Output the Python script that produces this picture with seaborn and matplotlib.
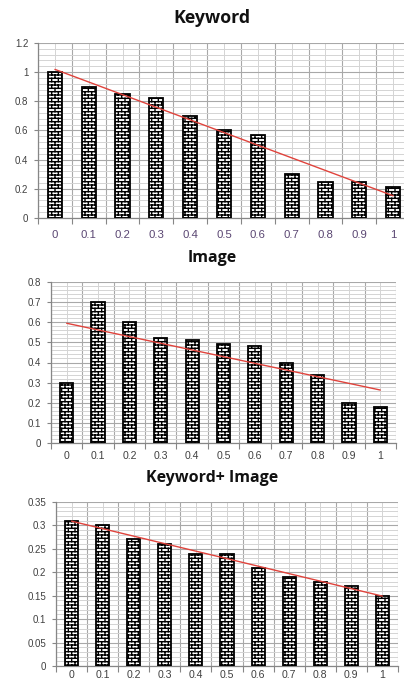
import numpy as np
import matplotlib
matplotlib.use("Agg")
import matplotlib.pyplot as plt
import matplotlib.hatch as mhatch
from matplotlib.path import Path
from matplotlib.ticker import MultipleLocator
import seaborn as sns
import warnings
warnings.filterwarnings("ignore")

# ---------------- data ----------------
categories = ["0", "0.1", "0.2", "0.3", "0.4", "0.5", "0.6", "0.7", "0.8", "0.9", "1"]
keyword_vals = [1.0, 0.90, 0.85, 0.82, 0.70, 0.60, 0.57, 0.30, 0.245, 0.245, 0.215]
image_vals = [0.30, 0.70, 0.60, 0.52, 0.51, 0.49, 0.48, 0.40, 0.34, 0.20, 0.18]
combo_vals = [0.31, 0.30, 0.27, 0.26, 0.24, 0.24, 0.21, 0.19, 0.18, 0.17, 0.15]
titles = ["Keyword", "Image", "Keyword+ Image"]
ymaxes = [1.2, 0.8, 0.35]
ymajor = [0.2, 0.1, 0.05]


# ---------------- brick hatch ----------------
class BrickHatch(mhatch.HatchPatternBase):
    ROWS = 30
    COLS = 15

    def __init__(self, hatch, density):
        self.segs = []
        if hatch and "b" in hatch:
            r, c = self.ROWS, self.COLS
            for i in range(r):
                y = (i + 0.5) / r
                self.segs.append(((0.0, y), (1.0, y)))
            for i in range(r):
                y0 = (i + 0.5) / r
                y1 = (i + 1.5) / r
                off = (0.25 if i % 2 == 0 else 0.75) / c
                for j in range(c):
                    x = j / c + off
                    if y1 <= 1.0:
                        self.segs.append(((x, y0), (x, y1)))
                    else:
                        self.segs.append(((x, y0), (x, 1.0)))
                        self.segs.append(((x, 0.0), (x, y1 - 1.0)))
        self.num_vertices = 2 * len(self.segs)

    def set_vertices_and_codes(self, vertices, codes):
        for k, (a, b) in enumerate(self.segs):
            vertices[2 * k] = a
            vertices[2 * k + 1] = b
            codes[2 * k] = Path.MOVETO
            codes[2 * k + 1] = Path.LINETO


mhatch._hatch_types.append(BrickHatch)
mhatch._validate_hatch_pattern = lambda hatch: None

sns.set_style("white")
plt.rcParams["hatch.linewidth"] = 1.0
plt.rcParams["hatch.color"] = "black"
plt.rcParams["font.family"] = ["Liberation Sans", "DejaVu Sans"]

fig = plt.figure(figsize=(4.04, 6.86), dpi=100)
W, H = 404, 686


def rect(l, r, t, b):
    return [l / W, (H - b) / H, (r - l) / W, (b - t) / H]


axes_px = [(38, 410, 43, 218), (51, 396, 282, 443), (56, 398, 502, 666)]
title_y = [18, 258, 478]
title_size = [12.8, 11.5, 11.5]
xlabel_pad = [9, 6, 3]
xlabel_size = [8.2, 7.6, 7.6]
xlabel_color = ["#5a4672", "#404040", "#404040"]
series = [keyword_vals, image_vals, combo_vals]

for k in range(3):
    ax = fig.add_axes(rect(*axes_px[k]))
    vals = series[k]
    sns.barplot(x=categories, y=vals, ax=ax, order=categories, color="white",
                saturation=1, edgecolor="black", linewidth=1.3, width=0.42,
                hatch="b", errorbar=None, zorder=3)
    idx = np.arange(len(categories))
    coef = np.polyfit(idx, vals, 1)
    ax.plot(idx, np.polyval(coef, idx), color="#e0433c", lw=1.0, zorder=4)

    n = len(categories)
    ax.set_xlim(-0.5, n - 0.5)
    ax.set_ylim(0, ymaxes[k])
    ax.set_xticks(np.arange(-0.5, n, 1.0))
    ax.set_xticklabels([])
    ax.set_xticks(idx, labels=categories, minor=True)
    ax.yaxis.set_major_locator(MultipleLocator(ymajor[k]))
    ax.yaxis.set_minor_locator(MultipleLocator(ymajor[k] / 5))
    ax.set_yticklabels(["{:g}".format(round(t, 3)) for t in ax.get_yticks()])

    ax.grid(True, which="major", color="#a8a8a8", lw=0.8, zorder=0)
    ax.grid(True, which="minor", color="#d4d4d4", lw=0.7, zorder=0)
    ax.set_axisbelow(True)

    ax.tick_params(axis="x", which="major", length=4, width=0.8, color="#868686",
                   direction="out", bottom=True)
    ax.tick_params(axis="x", which="minor", length=0, pad=xlabel_pad[k],
                   labelsize=xlabel_size[k], labelcolor=xlabel_color[k])
    ax.tick_params(axis="y", which="major", length=3, width=0.8, color="#868686",
                   direction="out", left=True, labelsize=7, labelcolor="#404040", pad=4)
    ax.tick_params(axis="y", which="minor", length=0)

    for s in ["top", "right"]:
        ax.spines[s].set_visible(False)
    for s in ["left", "bottom"]:
        ax.spines[s].set_color("#868686")
        ax.spines[s].set_linewidth(0.9)
    ax.set_xlabel("")
    ax.set_ylabel("")

    fig.text(212 / W, 1 - title_y[k] / H, titles[k], ha="center", va="center",
             fontsize=title_size[k], fontweight="bold",
             family=["Open Sans", "DejaVu Sans"], color="#111111")

fig.savefig("out.png", dpi=100)
